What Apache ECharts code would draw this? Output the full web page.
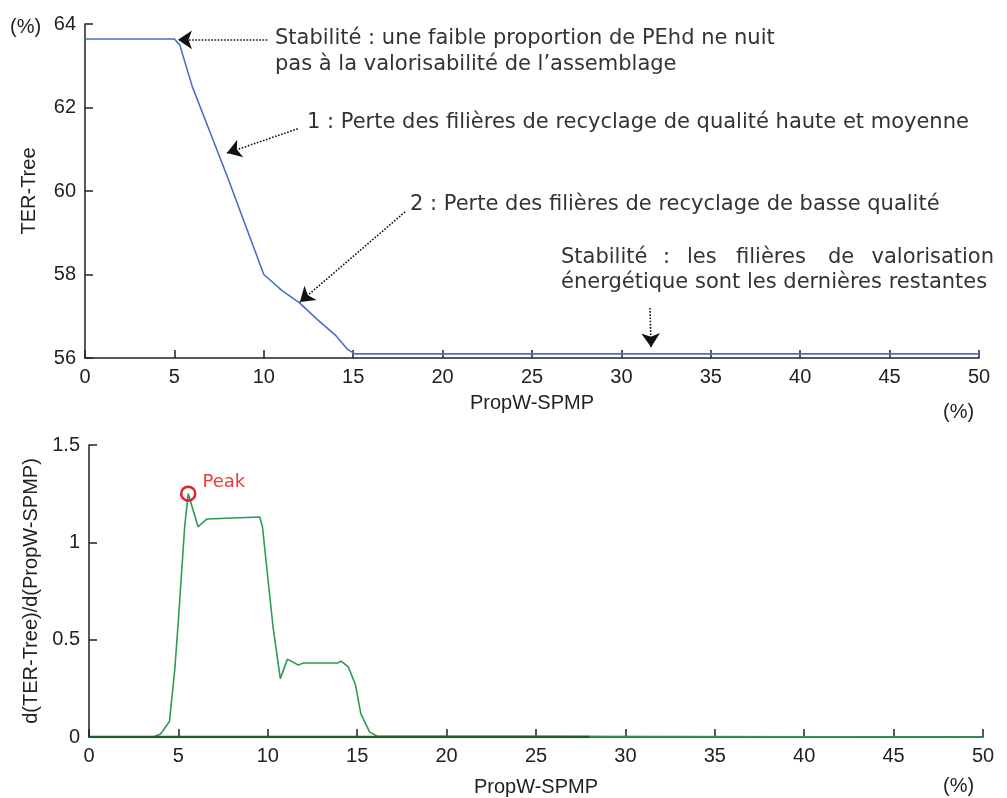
<!DOCTYPE html>
<html>
<head>
<meta charset="utf-8">
<script src="https://cdn.jsdelivr.net/npm/echarts@6/dist/echarts.min.js"></script>
<style>
  html, body { margin: 0; padding: 0; background: #fff; }
  #chart { width: 1007px; height: 798px; }
</style>
</head>
<body>
<div id="chart"></div>
<script>
// courbe du haut : TER-Tree selon PropW-SPMP
var propW = [0, 5, 5.3, 6, 7, 8, 9, 10, 10.4, 11, 12, 13, 14, 14.7, 15.1, 50]
var terTree = [63.64, 63.64, 63.5, 62.5, 61.4, 60.3, 59.15, 58.0, 57.85, 57.62, 57.32, 56.92, 56.55, 56.2, 56.1, 56.1]

// courbe du bas : derivee
var derivX = [0, 3.6, 4.0, 4.5, 4.8, 5.0, 5.35, 5.55, 6.1, 6.6, 9.55, 9.7, 10.3, 10.7, 11.1, 11.7, 12.0, 13.9, 14.1, 14.5, 14.9, 15.2, 15.7, 16.1, 50]
var derivY = [0, 0, 0.015, 0.08, 0.35, 0.6, 1.08, 1.25, 1.08, 1.12, 1.13, 1.08, 0.56, 0.30, 0.40, 0.37, 0.38, 0.38, 0.39, 0.36, 0.27, 0.12, 0.025, 0.005, 0]
var darkX = [0, 28]
var darkY = [0, 0]
var peak = [5.55, 1.25]

// fleches d'annotation (depart -> pointe), en coordonnees des donnees
var arrows = [
  [[10.2, 63.62], [5.2, 63.62]],
  [[11.9, 61.49], [7.94, 60.91]],
  [[17.9, 59.5], [12.02, 57.34]],
  [[31.6, 57.2], [31.66, 56.26]]
]

function pairs(xs, ys) {
  return xs.map(function (x, i) { return [x, ys[i]] })
}

var tickFont = "'Liberation Sans', Arial, sans-serif"
var noteFont = "'DejaVu Sans', Verdana, sans-serif"
var noteStyle = { fontFamily: noteFont, fontSize: 21, fill: '#333' }

function axisBase() {
  return {
    type: 'value',
    axisLine: { show: true, lineStyle: { color: '#222', width: 1.5 } },
    axisTick: { show: true, inside: true, length: 8, lineStyle: { color: '#222', width: 1.5 } },
    axisLabel: { color: '#222', fontFamily: tickFont, fontSize: 20, margin: 9 },
    splitLine: { show: false },
    nameTextStyle: { color: '#222', fontFamily: tickFont, fontSize: 20 }
  }
}

function text(x, y, s, extra) {
  return { type: 'text', x: x, y: y, style: Object.assign({ text: s, verticalAlign: 'middle' }, noteStyle, extra || {}) }
}

var chart = echarts.init(document.getElementById('chart'))
chart.setOption({
  animation: false,
  grid: [
    { left: 85, right: 28, top: 24, height: 334 },
    { left: 89, right: 24, top: 445, height: 294 }
  ],
  xAxis: [
    Object.assign(axisBase(), { gridIndex: 0, min: 0, max: 50, interval: 5, name: 'PropW-SPMP', nameLocation: 'middle', nameGap: 35 }),
    Object.assign(axisBase(), { gridIndex: 1, min: 0, max: 50, interval: 5, name: 'PropW-SPMP', nameLocation: 'middle', nameGap: 40 })
  ],
  yAxis: [
    Object.assign(axisBase(), { gridIndex: 0, min: 56, max: 64, interval: 2, name: 'TER-Tree', nameLocation: 'middle', nameGap: 46 }),
    Object.assign(axisBase(), { gridIndex: 1, min: 0, max: 1.5, interval: 0.5, name: 'd(TER-Tree)/d(PropW-SPMP)', nameLocation: 'middle', nameGap: 46 })
  ],
  series: [
    {
      type: 'line',
      xAxisIndex: 0,
      yAxisIndex: 0,
      data: pairs(propW, terTree),
      showSymbol: false,
      lineStyle: { color: '#4a6fc6', width: 1.6 },
      markLine: {
        silent: true,
        symbol: ['none', 'arrow'],
        symbolSize: 14,
        label: { show: false },
        lineStyle: { color: '#111', type: 'dotted', width: 1.6 },
        itemStyle: { color: '#111' },
        data: arrows.map(function (a) {
          return [{ coord: a[0] }, { coord: a[1] }]
        })
      }
    },
    {
      type: 'line',
      xAxisIndex: 1,
      yAxisIndex: 1,
      data: pairs(derivX, derivY),
      showSymbol: false,
      lineStyle: { color: '#2e9a52', width: 1.6 },
      markPoint: {
        silent: true,
        symbol: 'circle',
        symbolSize: 14,
        itemStyle: { color: 'rgba(0,0,0,0)', borderColor: '#e8202a', borderWidth: 2.5 },
        label: {
          show: true, formatter: 'Peak', position: 'right', distance: 6, offset: [0, -11],
          color: '#ee3a3a', fontFamily: noteFont, fontSize: 18
        },
        data: [{ coord: peak }]
      }
    },
    {
      type: 'line',
      xAxisIndex: 1,
      yAxisIndex: 1,
      data: pairs(darkX, darkY),
      showSymbol: false,
      lineStyle: { color: '#1d5a2c', width: 2.5 }
    }
  ],
  graphic: [
    text(10, 27, '(%)', { fontFamily: tickFont, fontSize: 20, fill: '#222' }),
    text(943, 412, '(%)', { fontFamily: tickFont, fontSize: 20, fill: '#222' }),
    text(943, 786, '(%)', { fontFamily: tickFont, fontSize: 20, fill: '#222' }),
    text(275, 39, 'Stabilité : une faible proportion de PEhd ne nuit'),
    text(275, 65, 'pas à la valorisabilité de l’assemblage'),
    text(307, 123, '1 : Perte des filières de recyclage de qualité haute et moyenne'),
    text(410, 205, '2 : Perte des filières de recyclage de basse qualité'),
    // premiere ligne justifiee, mot par mot
    text(561, 258, 'Stabilité'),
    text(663, 258, ':'),
    text(687, 258, 'les'),
    text(736, 258, 'filières'),
    text(828, 258, 'de'),
    text(994, 258, 'valorisation', { align: 'right' }),
    text(561, 283, 'énergétique sont les dernières restantes')
  ]
})
</script>
</body>
</html>
